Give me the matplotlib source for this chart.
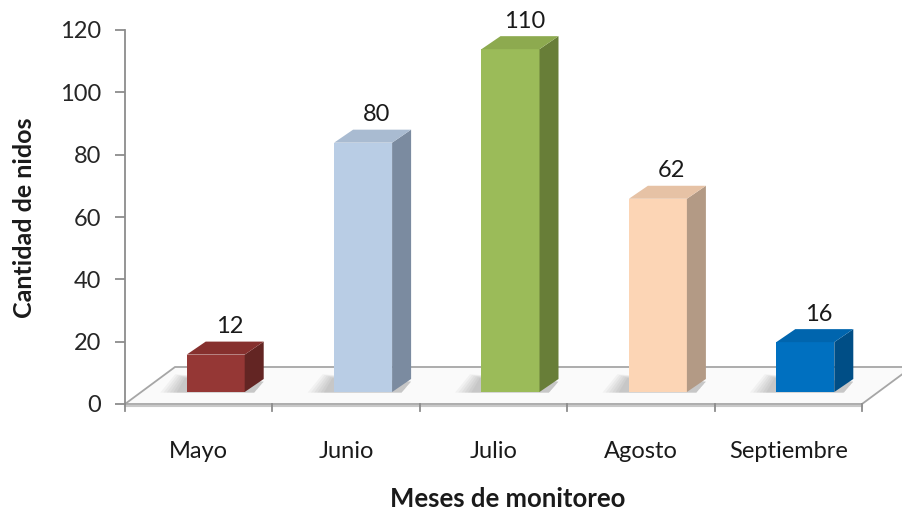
import matplotlib.pyplot as plt
from matplotlib.patches import Polygon

meses = ["Mayo", "Junio", "Julio", "Agosto", "Septiembre"]
nidos = [12, 80, 110, 62, 16]
yticks = [0, 20, 40, 60, 80, 100, 120]

# front / side / top colours of each bar
c_front = ["#953735", "#B9CDE5", "#9BBB59", "#FCD5B5", "#0070C0"]
c_side = ["#632523", "#7B8BA0", "#687E38", "#B39A85", "#004E86"]
c_top = ["#86302E", "#A9BBD1", "#8DAA4F", "#E6C2A5", "#0065AE"]

plt.rcParams['font.family'] = ['Lato', 'DejaVu Sans']

W, H = 902, 514
fig = plt.figure(figsize=(W / 100, H / 100), dpi=100)
# plot area: x 125..862 px, y 30..404 px
ax = fig.add_axes([125 / W, (H - 404) / H, 737 / W, 374 / H])
ax.set_xlim(-0.5, 4.5)
ax.set_ylim(0, 120)

px_x = 737 / 5      # px per category
px_y = 374 / 120    # px per unit

# 3d offsets (pixels -> data units)
floor_dx, floor_dy = 50 / px_x, 37 / px_y
bar_dx, bar_dy = 17 / px_x, 12 / px_y
dep_dx, dep_dy = 19 / px_x, 13 / px_y
bw = 58 / px_x

gray = "#A6A6A6"

# floor
floor = Polygon([(-0.5, 0), (4.5, 0), (4.5 + floor_dx, floor_dy), (-0.5 + floor_dx, floor_dy)],
                closed=True, facecolor="#FAFAFA", edgecolor=gray, lw=1.3, clip_on=False, zorder=1)
ax.add_patch(floor)
ax.plot([-0.5, 4.5], [-0.6, -0.6], color="#C8C8C8", lw=1.5, clip_on=False, zorder=1)

xs = list(range(len(meses)))
for i, v in enumerate(nidos):
    x0 = xs[i] + bar_dx - bw / 2
    x1 = x0 + bw
    y0 = bar_dy
    # soft shadow on the floor, spreading to the left
    for k in range(6):
        s = 0.02 + k * 0.022
        sh = Polygon([(x0 - s - 0.05, y0 - 0.2), (x1 + dep_dx * 0.5, y0 - 0.2),
                      (x1 + dep_dx, y0 + dep_dy * 0.8), (x0 - s * 0.6, y0 + dep_dy + 0.3 + k * 0.25)],
                     closed=True, facecolor="black", alpha=0.035, lw=0, zorder=2)
        ax.add_patch(sh)
    ax.bar(xs[i] + bar_dx, v, width=bw, bottom=y0, color=c_front[i], lw=0, zorder=4)
    side = Polygon([(x1, y0), (x1 + dep_dx, y0 + dep_dy), (x1 + dep_dx, y0 + v + dep_dy), (x1, y0 + v)],
                   closed=True, facecolor=c_side[i], lw=0, zorder=4, clip_on=False)
    top = Polygon([(x0, y0 + v), (x1, y0 + v), (x1 + dep_dx, y0 + v + dep_dy), (x0 + dep_dx, y0 + v + dep_dy)],
                  closed=True, facecolor=c_top[i], lw=0, zorder=4, clip_on=False)
    ax.add_patch(side)
    ax.add_patch(top)
    ax.text(xs[i] + bar_dx + dep_dx / 2 + 0.03, y0 + v + dep_dy + 1.4, str(v),
            ha="center", va="bottom", fontsize=17, color="#1A1A1A", clip_on=False)

for s in ["top", "right", "bottom"]:
    ax.spines[s].set_visible(False)
ax.spines["left"].set_color("#8C8C8C")
ax.spines["left"].set_linewidth(1.3)
ax.set_yticks(yticks)
ax.set_yticklabels([str(t) for t in yticks], fontsize=17, color="#262626")
ax.tick_params(axis="y", length=7, width=1.3, color="#8C8C8C", pad=10)

# category ticks along the floor front edge
ax.set_xticks(xs)
ax.set_xticklabels([])
ax.tick_params(axis="x", length=0)
for b in [-0.5, 0.5, 1.5, 2.5, 3.5, 4.5]:
    ax.plot([b, b], [0, -2.3], color="#8C8C8C", lw=1.3, clip_on=False, zorder=3)
for i, m in enumerate(meses):
    ax.text(xs[i], -15.3, m, ha="center", va="center", fontsize=17, color="#1A1A1A", clip_on=False)

fig.text(508 / W, 1 - 499 / H, "Meses de monitoreo", ha="center", va="center",
         fontsize=18.5, fontweight="bold", color="#1A1A1A")
fig.text(25 / W, 1 - 218 / H, "Cantidad de nidos", ha="center", va="center", rotation=90,
         fontsize=18, fontweight="bold", color="#1A1A1A")

fig.savefig("out.png", dpi=100)
